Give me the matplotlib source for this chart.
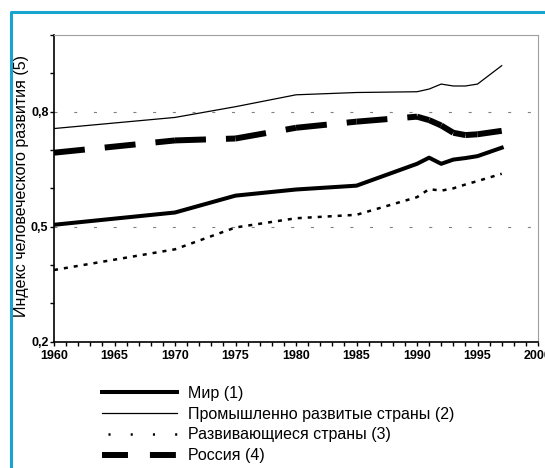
import matplotlib.pyplot as plt
from matplotlib.lines import Line2D
from matplotlib.ticker import MultipleLocator, FuncFormatter

plt.rcParams['font.family'] = ['Liberation Sans', 'DejaVu Sans']
plt.rcParams['lines.scale_dashes'] = False

# Data (HDI by group)
years = [1960, 1970, 1975, 1980, 1985, 1990, 1991, 1992, 1993, 1994, 1995, 1997]
world = [0.505, 0.537, 0.581, 0.597, 0.607, 0.664, 0.680, 0.664, 0.675, 0.679, 0.684, 0.706]
industrial = [0.756, 0.785, 0.813, 0.844, 0.850, 0.852, 0.859, 0.872, 0.867, 0.867, 0.872, 0.920]
developing = [0.387, 0.441, 0.498, 0.522, 0.531, 0.577, 0.598, 0.594, 0.600, 0.610, 0.619, 0.638]
russia = [0.693, 0.725, 0.730, 0.758, 0.774, 0.787, 0.778, 0.764, 0.745, 0.739, 0.741, 0.750]

labels = ['Мир (1)', 'Промышленно развитые страны (2)',
          'Развивающиеся страны (3)', 'Россия (4)']
ylabel = 'Индекс человеческого развития (5)'
xticks = list(range(1960, 2001, 5))
yticks = [0.2, 0.5, 0.8]

W, H = 545, 468
fig = plt.figure(figsize=(W / 100, H / 100), dpi=100)
ax = fig.add_axes([54 / W, 1 - 341.7 / H, 484 / W, 306.7 / H])

# blue frame (open at right and bottom)
fig.add_artist(Line2D([10.5 / W, 10.5 / W, 1], [0, 1 - 11.5 / H, 1 - 11.5 / H],
                      transform=fig.transFigure, color='#19a3cf', lw=2.2))

ax.plot(years, industrial, color='k', lw=0.9)
ax.plot(years, world, color='k', lw=2.9)
ax.plot(years, developing, color='k', lw=1.8, linestyle=(0, (2.9, 4.3)))
# Excel restarts the dash pattern on every segment
for i in range(len(years) - 1):
    ax.plot(years[i:i + 2], russia[i:i + 2], color='k', lw=4.3,
            linestyle=(0, (22.3, 14.4)), dash_capstyle='butt')

ax.set_xlim(1960, 2000)
ax.set_ylim(0.2, 1.0)
ax.set_xticks(xticks)
ax.xaxis.set_minor_locator(MultipleLocator(1))
ax.set_yticks(yticks)
ax.yaxis.set_minor_locator(MultipleLocator(0.1))
ax.yaxis.set_major_formatter(FuncFormatter(lambda v, p: f'{v:.1f}'.replace('.', ',')))

ax.tick_params(which='both', direction='out', length=3, width=1, color='k')
ax.tick_params(axis='x', pad=3, labelsize=9)
ax.tick_params(axis='y', pad=1, labelsize=9)
for t in ax.get_xticklabels() + ax.get_yticklabels():
    t.set_fontweight('bold')

ax.grid(axis='y', which='major', color='#808080', lw=0.8, linestyle=(0, (2.2, 12)))

for s in ['top', 'right']:
    ax.spines[s].set_color('#a0a0a0')
    ax.spines[s].set_linewidth(0.8)
for s in ['left', 'bottom']:
    ax.spines[s].set_color('k')
    ax.spines[s].set_linewidth(1.2)

fig.text(22 / W, 1 - 186 / H, ylabel, rotation=90, ha='center', va='center', fontsize=11.5)

handles = [
    Line2D([], [], color='k', lw=2.9),
    Line2D([], [], color='k', lw=0.9),
    Line2D([], [], color='k', lw=1.8, linestyle=(11.7, (1.5, 14.5))),
    Line2D([], [], color='k', lw=4.3, linestyle=(0, (18.7, 15.8)), dash_capstyle='butt'),
]
ax.legend(handles, labels, loc='upper left', bbox_to_anchor=(102 / W, 1 - 386 / H),
          bbox_transform=fig.transFigure, frameon=False, fontsize=11.5,
          handlelength=4.7, handletextpad=0.7, labelspacing=0.36,
          borderpad=0, borderaxespad=0)

fig.savefig('out.png', dpi=100)
